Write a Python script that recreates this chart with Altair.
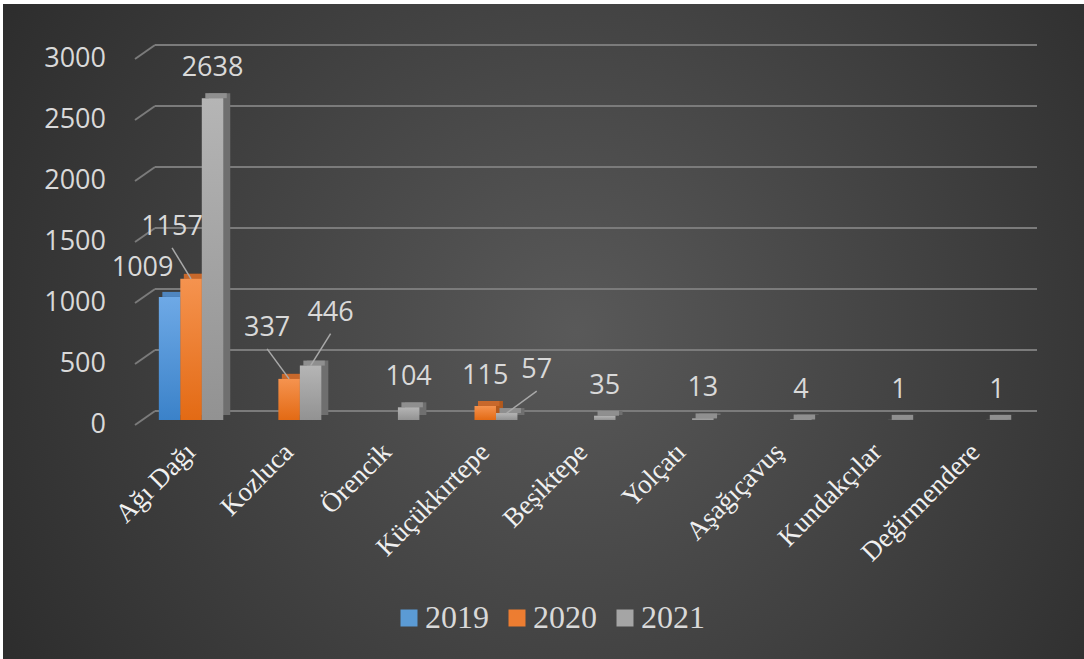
import altair as alt
import pandas as pd

# ---- data -----------------------------------------------------------------
CATEGORIES = ["Ağı Dağı", "Kozluca", "Örencik", "Küçükkırtepe", "Beşiktepe",
              "Yolçatı", "Aşağıçavuş", "Kundakçılar", "Değirmendere"]
YEARS = ["2019", "2020", "2021"]
VALUES_2019 = [1009, None, None, None, None, None, None, None, None]
VALUES_2020 = [1157, 337, None, 115, None, None, None, None, None]
VALUES_2021 = [2638, 446, 104, 57, 35, 13, 4, 1, 1]
Y_TICKS = [0, 500, 1000, 1500, 2000, 2500, 3000]

# ---- style ----------------------------------------------------------------
FRONT = {"2019": ("#6ea9e6", "#3b82c9"),
         "2020": ("#f5934f", "#e36a14"),
         "2021": ("#b5b5b5", "#929292")}
TOP = {"2019": "#4f86c0", "2020": "#c8682b", "2021": "#8f8f8f"}
SIDE = {"2019": "#3a6da3", "2020": "#b2591d", "2021": "#6f6f6f"}
LEGEND_COLORS = ["#5b9bd5", "#ed7d31", "#a5a5a5"]
TEXT = "#d9d9d9"
CAT_TEXT = "#f0f0f0"
GRID = "#7b7b7b"

# value label nudges in px from the top of a bar: (dx, dy, connector line)
LABEL_NUDGE = {
    ("Ağı Dağı", "2019"): (-27, -29, False),
    ("Ağı Dağı", "2020"): (-19, -52, True),
    ("Kozluca", "2020"): (-22, -51, True),
    ("Kozluca", "2021"): (20, -53, True),
    ("Küçükkırtepe", "2021"): (30, -43, True),
}
DEFAULT_NUDGE = (0, -30, False)

PLOT_W, PLOT_H = 902, 366
X_MAX = 42.0
GROUP_STEP = 4.566
FIRST_CENTER = 2.61
Y_MAX = 3000
DEPTH_X, DEPTH_Y = 7, -5

px_x = PLOT_W / X_MAX
px_y = PLOT_H / Y_MAX

rows = []
for i, cat in enumerate(CATEGORIES):
    center = FIRST_CENTER + GROUP_STEP * i
    for j, (year, series) in enumerate(zip(YEARS, [VALUES_2019, VALUES_2020, VALUES_2021])):
        v = series[i]
        if v is None:
            continue
        x0 = center - 1.5 + j
        mid = x0 + 0.5
        dx, dy, leader = LABEL_NUDGE.get((cat, year), DEFAULT_NUDGE)
        rows.append(dict(category=cat, year=year, value=v, zero=0,
                         x0=x0, x1=x0 + 1, mid=mid,
                         lx=mid + dx / px_x, ly=v - dy / px_y,
                         sy=v - (dy + 21) / px_y, leader=leader))
df = pd.DataFrame(rows)
grid_df = pd.DataFrame({"v": Y_TICKS})
cat_df = pd.DataFrame({"category": CATEGORIES,
                       "center": [FIRST_CENTER + GROUP_STEP * i
                                  for i in range(len(CATEGORIES))]})

xs = alt.Scale(domain=[0, X_MAX], nice=False, zero=False)
ys = alt.Scale(domain=[0, Y_MAX], nice=False)

# ---- background panel with radial shading --------------------------------
bg_fill = {"gradient": "radial", "x1": 0.53, "y1": 0.5, "x2": 0.53, "y2": 0.5,
           "r1": 0, "r2": 0.72,
           "stops": [{"offset": 0, "color": "#595959"},
                     {"offset": 1, "color": "#252525"}]}
background = alt.Chart(pd.DataFrame({"k": [0]})).mark_rect(fill=bg_fill).encode(
    x=alt.value(-132), x2=alt.value(PLOT_W + 47),
    y=alt.value(-50), y2=alt.value(PLOT_H + 239))

# ---- perspective gridlines + value axis labels ----------------------------
grid_back = alt.Chart(grid_df).mark_rule(color=GRID, strokeWidth=2, yOffset=-9).encode(
    x=alt.value(20), x2=alt.value(PLOT_W),
    y=alt.Y("v:Q", scale=ys, axis=None))
grid_diag = alt.Chart(grid_df).mark_rule(color=GRID, strokeWidth=2,
                                         yOffset=5, y2Offset=-9).encode(
    x=alt.value(0), x2=alt.value(20),
    y=alt.Y("v:Q", scale=ys, axis=None), y2=alt.Y2("v:Q"))
y_labels = alt.Chart(grid_df).mark_text(font="Open Sans", fontSize=27, color=TEXT,
                                        align="right", baseline="middle", dy=5).encode(
    x=alt.value(-29),
    y=alt.Y("v:Q", scale=ys, axis=None),
    text=alt.Text("v:Q", format="d"))

# ---- category labels, slanted ---------------------------------------------
x_labels = alt.Chart(cat_df).mark_text(font="Liberation Serif", fontSize=27,
                                       color=CAT_TEXT, angle=315, align="right",
                                       baseline="middle").encode(
    x=alt.X("center:Q", scale=xs, axis=None),
    y=alt.value(PLOT_H + 28),
    text="category:N")

# ---- 3D bars: side block, top face, front face ----------------------------
sides, tops, fronts = [], [], []
for year in YEARS:
    base = alt.Chart(df).transform_filter(f"datum.year == '{year}'")
    sides.append(base.mark_bar(color=SIDE[year], xOffset=DEPTH_X, x2Offset=DEPTH_X,
                               yOffset=DEPTH_Y, y2Offset=DEPTH_Y).encode(
        x=alt.X("x0:Q", scale=xs, axis=None), x2="x1:Q",
        y=alt.Y("value:Q", scale=ys, axis=None), y2="zero:Q"))
    tops.append(base.mark_bar(color=TOP[year], xOffset=DEPTH_X / 2, x2Offset=DEPTH_X / 2,
                              yOffset=DEPTH_Y).encode(
        x=alt.X("x0:Q", scale=xs, axis=None), x2="x1:Q",
        y=alt.Y("value:Q", scale=ys, axis=None), y2="value:Q"))
    top_c, bot_c = FRONT[year]
    grad = {"gradient": "linear", "x1": 0, "y1": 0, "x2": 0, "y2": 1,
            "stops": [{"offset": 0, "color": top_c}, {"offset": 1, "color": bot_c}]}
    fronts.append(base.mark_bar(fill=grad).encode(
        x=alt.X("x0:Q", scale=xs, axis=None), x2="x1:Q",
        y=alt.Y("value:Q", scale=ys, axis=None), y2="zero:Q"))

# ---- value labels and connectors -----------------------------------------
leaders = alt.Chart(df).transform_filter("datum.leader").mark_rule(
    color="#a9a9a9", strokeWidth=1.5).encode(
    x=alt.X("lx:Q", scale=xs, axis=None), x2="mid:Q",
    y=alt.Y("sy:Q", scale=ys, axis=None), y2="value:Q")
labels = alt.Chart(df).mark_text(font="Open Sans", fontSize=27, color=TEXT,
                                 align="center", baseline="middle").encode(
    x=alt.X("lx:Q", scale=xs, axis=None),
    y=alt.Y("ly:Q", scale=ys, axis=None),
    text=alt.Text("value:Q", format="d"))

# ---- legend ---------------------------------------------------------------
legend = alt.Chart(df).transform_filter("false").mark_square(filled=True, opacity=1).encode(
    color=alt.Color("year:N",
                    scale=alt.Scale(domain=YEARS, range=LEGEND_COLORS),
                    legend=alt.Legend(orient="none", legendX=258, legendY=548,
                                      direction="horizontal", title=None,
                                      symbolType="square", symbolSize=289,
                                      symbolStrokeWidth=0, symbolOpacity=1,
                                      labelFont="Liberation Serif", labelFontSize=32,
                                      labelColor=TEXT, labelOffset=0,
                                      columnPadding=12, zindex=1)))

chart = alt.layer(background, grid_diag, grid_back, y_labels, x_labels,
                  *sides, *tops, *fronts, leaders, labels, legend).properties(
    width=PLOT_W, height=PLOT_H,
    autosize=alt.AutoSizeParams(type="none"),
    padding={"left": 135, "top": 54, "right": 47, "bottom": 239},
).configure(background="#ffffff").configure_view(strokeWidth=0)

chart.save("out.html", embed_options={"renderer": "svg", "actions": False})
